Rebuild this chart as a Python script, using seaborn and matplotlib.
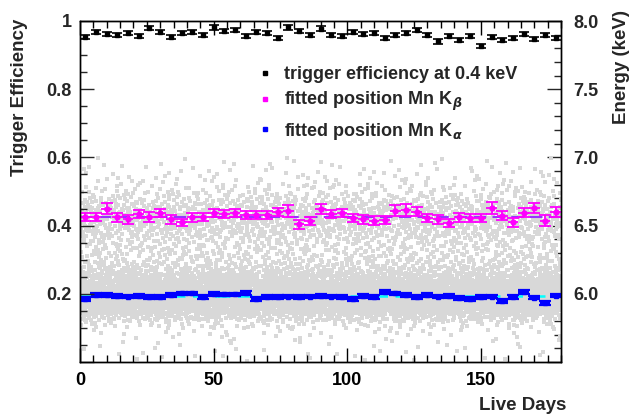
import numpy as np
import pandas as pd
import matplotlib
matplotlib.use("Agg")
import matplotlib.pyplot as plt
import seaborn as sns
from matplotlib.lines import Line2D
from matplotlib.ticker import MultipleLocator, FuncFormatter

# ---------------- data ----------------
bin_half_width = 2.0
live_days = [2, 6, 10, 14, 18, 22, 26, 30, 34, 38, 42, 46, 50, 54, 58,
             62, 66, 70, 74, 78, 82, 86, 90, 94, 98, 102, 106, 110, 114, 118,
             122, 126, 130, 134, 138, 142, 146, 150, 154, 158, 162, 166, 170, 174, 178]

trigger_eff = [0.954, 0.967, 0.961, 0.958, 0.964, 0.957, 0.980, 0.967, 0.954, 0.964,
               0.968, 0.959, 0.981, 0.971, 0.974, 0.956, 0.968, 0.966, 0.951, 0.981,
               0.971, 0.959, 0.978, 0.959, 0.956, 0.967, 0.961, 0.966, 0.951, 0.958,
               0.964, 0.974, 0.959, 0.940, 0.957, 0.944, 0.957, 0.928, 0.954, 0.944,
               0.951, 0.961, 0.946, 0.959, 0.949]
trigger_err = [0.006] * 45

kbeta_kev = [6.565, 6.565, 6.623, 6.560, 6.545, 6.583, 6.565, 6.590, 6.548, 6.525,
             6.560, 6.565, 6.590, 6.583, 6.590, 6.578, 6.578, 6.578, 6.598, 6.608,
             6.510, 6.533, 6.623, 6.583, 6.590, 6.558, 6.545, 6.535, 6.540, 6.610,
             6.615, 6.603, 6.553, 6.545, 6.518, 6.560, 6.558, 6.553, 6.630, 6.573,
             6.523, 6.595, 6.628, 6.535, 6.598]
kbeta_err = [0.030, 0.030, 0.040, 0.030, 0.032, 0.030, 0.035, 0.030, 0.033, 0.025,
             0.030, 0.030, 0.030, 0.030, 0.030, 0.030, 0.030, 0.030, 0.030, 0.043,
             0.032, 0.030, 0.035, 0.030, 0.030, 0.030, 0.030, 0.032, 0.030, 0.040,
             0.042, 0.030, 0.030, 0.032, 0.030, 0.030, 0.030, 0.030, 0.045, 0.035,
             0.030, 0.035, 0.035, 0.040, 0.035]
kbeta_fit_kev = 6.565

kalpha_kev = [5.9625, 5.990, 5.990, 5.985, 5.980, 5.985, 5.975, 5.975, 5.990, 6.0025,
              6.0025, 5.975, 5.9975, 5.995, 5.995, 6.0075, 5.9625, 5.975, 5.975, 5.980,
              5.975, 5.980, 5.9825, 5.980, 5.975, 5.960, 5.9825, 5.975, 6.015, 6.0025,
              5.990, 5.975, 5.990, 5.980, 5.9825, 5.9675, 5.9625, 5.9775, 5.980, 5.950,
              5.975, 6.015, 5.9725, 5.935, 5.9875]
kalpha_err = [0.014] * 45
kalpha_fit_kev = 5.982

# background events: number of events per live day in 0.05 keV energy bands
cloud_band_low_kev = [5.50, 5.55, 5.60, 5.65, 5.70, 5.75, 5.80, 5.85, 5.90, 5.95,
                      6.00, 6.05, 6.10, 6.15, 6.20, 6.25, 6.30, 6.35, 6.40, 6.45,
                      6.50, 6.55, 6.60, 6.65, 6.70, 6.75, 6.80, 6.85, 6.90, 6.95]
cloud_per_day = [0.06, 0.08, 0.08, 0.10, 0.16, 0.45, 1.4, 3.2, 4.6, 5.0,
                 4.6, 3.6, 2.3, 1.4, 0.85, 0.7, 0.65, 0.7, 0.95, 1.2,
                 1.35, 1.35, 1.2, 0.85, 0.55, 0.36, 0.22, 0.15, 0.12, 0.08]
cloud_band_width_kev = 0.05
day_range = 180.0

# ---------------- background cloud table (Halton 2,3,5 sequence, thinned by band density) ----
def radical_inverse(idx, base):
    idx = idx.copy()
    out = np.zeros(idx.shape, dtype=float)
    f = 1.0 / base
    while np.any(idx > 0):
        out += f * (idx % base)
        idx //= base
        f /= base
    return out

dmax = max(cloud_per_day)
e_lo = cloud_band_low_kev[0]
n_bands = len(cloud_band_low_kev)
n_cand = int(dmax * day_range * n_bands)
k = np.arange(1, n_cand + 1)
u = radical_inverse(k, 2)
w = radical_inverse(k, 3)
t = radical_inverse(k, 5)
band_idx = np.minimum((w * n_bands).astype(int), n_bands - 1)
keep = t < np.asarray(cloud_per_day)[band_idx] / dmax
cloud = pd.DataFrame({"day": u[keep] * day_range,
                      "energy": e_lo + w[keep] * n_bands * cloud_band_width_kev})

# ---------------- figure ----------------
sns.set_theme(style="ticks")
plt.rcParams["font.family"] = ["Liberation Sans", "DejaVu Sans"]
plt.rcParams["font.weight"] = "bold"
plt.rcParams["mathtext.fontset"] = "custom"
plt.rcParams["mathtext.rm"] = "Liberation Sans:bold"
plt.rcParams["mathtext.it"] = "DejaVu Sans:italic"

fig = plt.figure(figsize=(6.32, 4.19), dpi=100)
L, R, B, T = 80 / 632, 561 / 632, 1 - 362 / 419, 1 - 21 / 419
ax = fig.add_axes([L, B, R - L, T - B])
ax2 = ax.twinx()

sns.scatterplot(data=cloud, x="day", y="energy", ax=ax2, color="#d8d8d8",
                marker="s", s=5.5, linewidth=0, zorder=1, legend=False)

ax2.axhline(kbeta_fit_kev, color="#9933ff", lw=1.5, ls=(0, (6, 3)), zorder=2)
ax2.axhline(kalpha_fit_kev, color="#00ffff", lw=1.8, ls=(0, (6, 3)), zorder=2)

ax2.errorbar(live_days, kbeta_kev, xerr=bin_half_width, fmt="none",
             ecolor="#ff00ff", elinewidth=1.3, capsize=0, zorder=3)
ax2.errorbar(live_days, kbeta_kev, yerr=kbeta_err, fmt="o",
             color="#ff00ff", ms=3.5, elinewidth=1.3, capsize=4, capthick=1.3, zorder=3)
ax2.errorbar(live_days, kalpha_kev, xerr=bin_half_width, fmt="none",
             ecolor="#0000ff", elinewidth=1.5, capsize=0, zorder=3)
ax2.errorbar(live_days, kalpha_kev, yerr=kalpha_err, fmt="s",
             color="#0000ff", ms=3, elinewidth=1.6, capsize=4, capthick=1.6, zorder=3)

ax.errorbar(live_days, trigger_eff, yerr=trigger_err, fmt="s", color="black",
            ms=2.5, elinewidth=1.2, capsize=3.5, capthick=1.2, zorder=3)

# ---------------- axes ----------------
ax.set_xlim(0, 180)
ax.set_ylim(0, 1)
ax2.set_ylim(5.5, 8.0)
ax.set_zorder(ax2.get_zorder() + 1)
ax.patch.set_visible(False)

ax.xaxis.set_major_locator(MultipleLocator(50))
ax.xaxis.set_minor_locator(MultipleLocator(5))
ax.yaxis.set_major_locator(MultipleLocator(0.2))
ax.yaxis.set_minor_locator(MultipleLocator(0.05))
ax2.yaxis.set_major_locator(MultipleLocator(0.5))
ax2.yaxis.set_minor_locator(MultipleLocator(0.1))

def eff_fmt(v, pos):
    if abs(v) < 1e-9:
        return ""
    if abs(v - 1) < 1e-9:
        return "1"
    return f"{v:.1f}"

def kev_fmt(v, pos):
    if abs(v - 5.5) < 1e-9:
        return ""
    return f"{v:.1f}"

ax.yaxis.set_major_formatter(FuncFormatter(eff_fmt))
ax2.yaxis.set_major_formatter(FuncFormatter(kev_fmt))

ax.tick_params(axis="x", which="both", direction="in", top=True, bottom=True,
               labelsize=13, pad=7, colors="black")
ax.tick_params(axis="x", which="major", length=10, width=1)
ax.tick_params(axis="x", which="minor", length=5, width=1)
ax.tick_params(axis="y", which="both", direction="in", left=True, right=False,
               labelsize=13, pad=6)
ax.tick_params(axis="y", which="major", length=10, width=1)
ax.tick_params(axis="y", which="minor", length=5, width=1)
ax2.tick_params(axis="y", which="both", direction="in", left=False, right=True,
                labelsize=13, pad=9)
ax2.tick_params(axis="y", which="major", length=10, width=1)
ax2.tick_params(axis="y", which="minor", length=5, width=1)

for a in (ax, ax2):
    for sp in a.spines.values():
        sp.set_linewidth(1.0)
        sp.set_color("black")
    for lab in a.get_xticklabels() + a.get_yticklabels():
        lab.set_fontweight("bold")

ax.set_xlabel("")
ax.set_ylabel("")
ax2.set_ylabel("")
ax2.set_xlabel("")

fig.text(20 / 632, 1 - 97 / 419, "Trigger Efficiency", rotation=90, ha="center",
         va="center", fontsize=13.5, fontweight="bold")
fig.text(621 / 632, 1 - 67 / 419, "Energy (keV)", rotation=90, ha="center",
         va="center", fontsize=13.5, fontweight="bold")
fig.text(566 / 632, 1 - 405 / 419, "Live Days", ha="right", va="center",
         fontsize=13.5, fontweight="bold")

handles = [
    Line2D([], [], ls="none", marker="s", color="black", ms=2.5),
    Line2D([], [], ls="none", marker="s", color="#ff00ff", ms=2.5),
    Line2D([], [], ls="none", marker="s", color="#0000ff", ms=2.5),
]
labels = ["trigger efficiency at 0.4 keV",
          r"fitted position Mn K$_{\beta}$",
          r"fitted position Mn K$_{\alpha}$"]
leg = ax.legend(handles, labels, loc="upper left",
                bbox_to_anchor=(258 / 632, 1 - 66 / 419), bbox_transform=fig.transFigure,
                frameon=False, fontsize=13, handlelength=0.8, handletextpad=0.65,
                labelspacing=0.4, borderpad=0, borderaxespad=0)
for t_ in leg.get_texts():
    t_.set_fontweight("bold")

fig.savefig("out.png", dpi=100)
